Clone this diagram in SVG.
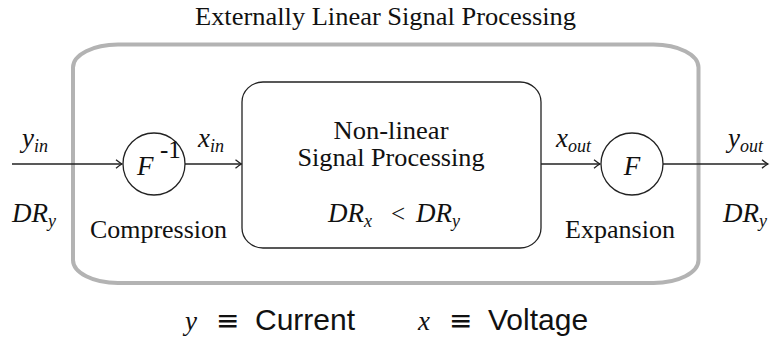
<svg xmlns="http://www.w3.org/2000/svg" width="771" height="338" viewBox="0 0 771 338">
<defs>
<style>
.rm{font-family:"Liberation Serif","DejaVu Serif",serif;font-size:25px;fill:#111}
.mi{font-family:"Liberation Serif","DejaVu Serif",serif;font-style:italic;font-size:27px;fill:#111}
.sub{font-size:18px}
.ss{font-family:"Liberation Sans","DejaVu Sans",sans-serif;font-size:30px;fill:#111}
.eq{font-family:"DejaVu Sans",sans-serif;font-size:28px;fill:#111}
.wire{stroke:#222;stroke-width:1.3;fill:none;marker-end:url(#arr)}
.blk{stroke:#222;stroke-width:1.3;fill:#fff}
</style>
<marker id="arr" markerUnits="userSpaceOnUse" markerWidth="12" markerHeight="12" viewBox="-8 -6 10 12" refX="0" refY="0" orient="auto">
<path d="M-6,-4.2 Q-2,-1 0,0 Q-2,1 -6,4.2" fill="none" stroke="#222" stroke-width="1.3"/>
</marker>
</defs>
<g id="outer">
<rect x="73" y="44.5" width="625.5" height="238.5" rx="45" ry="23" fill="none" stroke="#b3b3b3" stroke-width="4"/>
<text class="rm" x="385.5" y="25" text-anchor="middle" textLength="381" lengthAdjust="spacingAndGlyphs">Externally Linear Signal Processing</text>
</g>
<g id="connectors">
<line class="wire" x1="12" y1="164" x2="122" y2="164"/>
<line class="wire" x1="185" y1="164" x2="241.5" y2="164"/>
<line class="wire" x1="541" y1="164" x2="600" y2="164"/>
<line class="wire" x1="663" y1="164" x2="768" y2="164"/>
</g>
<g id="compress">
<circle class="blk" cx="154" cy="164" r="31"/>
<text class="mi" x="137" y="175">F</text>
<text class="rm" x="160" y="158" font-size="13">-1</text>
<text class="rm" x="90" y="238" textLength="137" lengthAdjust="spacingAndGlyphs">Compression</text>
</g>
<g id="nonlinear">
<rect class="blk" x="242" y="82" width="299" height="166" rx="21" ry="20"/>
<text class="rm" x="391" y="139" text-anchor="middle" textLength="115" lengthAdjust="spacingAndGlyphs">Non-linear</text>
<text class="rm" x="391" y="166" text-anchor="middle" textLength="187" lengthAdjust="spacingAndGlyphs">Signal Processing</text>
<text class="mi" x="328" y="222" font-size="29">DR<tspan class="sub" dy="5">x</tspan></text>
<text class="rm" x="398" y="222" text-anchor="middle" font-size="28">&lt;</text>
<text class="mi" x="416" y="222" font-size="29">DR<tspan class="sub" dy="5">y</tspan></text>
</g>
<g id="expand">
<circle class="blk" cx="632" cy="164" r="31"/>
<text class="mi" x="632" y="175" text-anchor="middle">F</text>
<text class="rm" x="565" y="238" textLength="110" lengthAdjust="spacingAndGlyphs">Expansion</text>
</g>
<g id="labels">
<text class="mi" x="22" y="147">y<tspan class="sub" dy="5">in</tspan></text>
<text class="mi" x="198" y="147">x<tspan class="sub" dy="5">in</tspan></text>
<text class="mi" x="556" y="147">x<tspan class="sub" dy="5">out</tspan></text>
<text class="mi" x="728" y="147">y<tspan class="sub" dy="5">out</tspan></text>
<text class="mi" x="12" y="222">DR<tspan class="sub" dy="5">y</tspan></text>
<text class="mi" x="723" y="222">DR<tspan class="sub" dy="5">y</tspan></text>
</g>
<g id="legend">
<text class="mi" x="185" y="330" font-size="31">y</text>
<text class="eq" x="216" y="330">≡</text>
<text class="ss" x="255" y="330">Current</text>
<text class="mi" x="418" y="330" font-size="31">x</text>
<text class="eq" x="449" y="330">≡</text>
<text class="ss" x="488" y="330">Voltage</text>
</g>
</svg>
